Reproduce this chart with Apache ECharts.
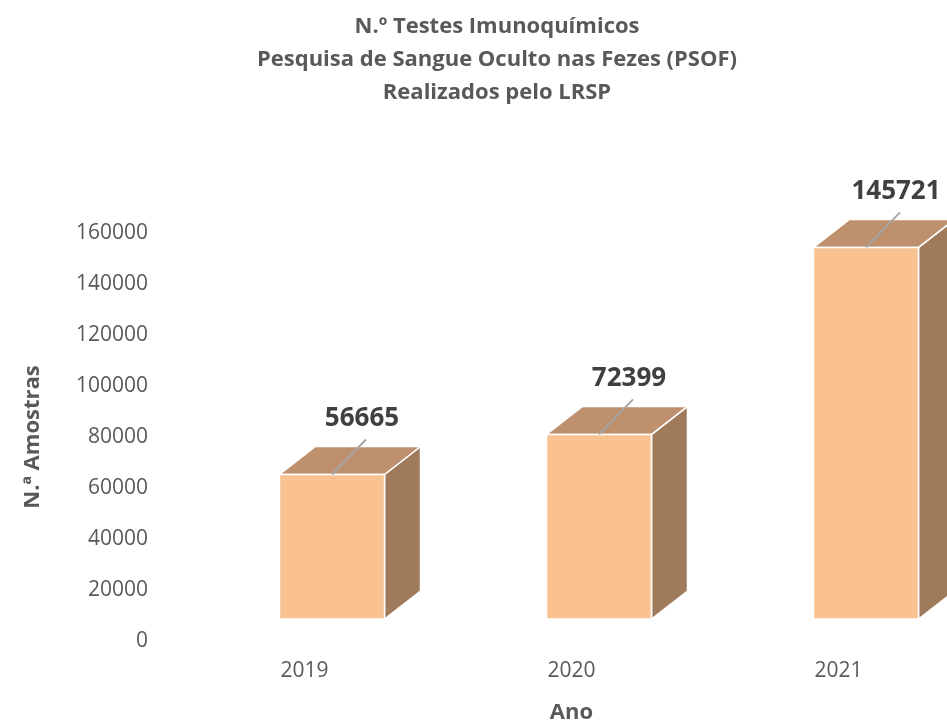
<!DOCTYPE html>
<html>
<head>
<meta charset="utf-8">
<script src="https://cdn.jsdelivr.net/npm/echarts@6/dist/echarts.min.js"></script>
<style>
  html, body { margin: 0; padding: 0; background: #fff; }
  #chart { width: 947px; height: 721px; }
</style>
</head>
<body>
<div id="chart"></div>
<script>
// dados
const anos = ['2019', '2020', '2021'];
const amostras = [56665, 72399, 145721];
const yTicks = [0, 160000, 20000]; // min, max, intervalo

const FONT = '"Open Sans", "Noto Sans", sans-serif';
const cores = {
  frente: '#FAC191',
  topo: '#BF906E',
  lado: '#9F7B5B',
  texto: '#595959',
  rotulo: '#404040',
  linha: '#A6A6A6'
};

const chart = echarts.init(document.getElementById('chart'));

// barra 3D desenhada a partir das coordenadas do eixo
function renderBar(params, api) {
  const v = api.value(1);
  const base = api.coord([api.value(0), 0]);
  const top = api.coord([api.value(0), v]);
  const chao = 22;          // deslocamento do "chão" 3D
  const dx = 36, dy = -28;  // profundidade
  const x0 = base[0] - 25, x1 = base[0] + 80;
  const yb = base[1] - chao, yt = top[1] - chao;
  const xc = (x0 + x1) / 2;
  const borda = { stroke: '#fff', lineWidth: 1.5 };

  return {
    type: 'group',
    children: [
      {
        type: 'polygon',
        shape: { points: [[x1, yt], [x1 + dx, yt + dy], [x1 + dx, yb + dy], [x1, yb]] },
        style: Object.assign({ fill: cores.lado }, borda)
      },
      {
        type: 'polygon',
        shape: { points: [[x0, yt], [x0 + dx, yt + dy], [x1 + dx, yt + dy], [x1, yt]] },
        style: Object.assign({ fill: cores.topo }, borda)
      },
      {
        type: 'rect',
        shape: { x: x0, y: yt, width: x1 - x0, height: yb - yt },
        style: Object.assign({ fill: cores.frente }, borda)
      },
      {
        type: 'line',
        shape: { x1: xc, y1: yt, x2: xc + 34, y2: yt - 35 },
        style: { stroke: cores.linha, lineWidth: 2 }
      },
      {
        type: 'text',
        x: xc + 30,
        y: yt - 56,
        style: {
          text: String(v),
          fill: cores.rotulo,
          font: 'bold 26px ' + FONT,
          align: 'center',
          verticalAlign: 'middle',
          textAlign: 'center',
          textVerticalAlign: 'middle'
        }
      }
    ]
  };
}

chart.setOption({
  backgroundColor: '#fff',
  animation: false,
  graphic: [{
    type: 'text',
    x: 497,
    y: 10,
    style: {
      text: 'N.º Testes Imunoquímicos\nPesquisa de Sangue Oculto nas Fezes (PSOF)\nRealizados pelo LRSP',
      fill: cores.texto,
      font: 'bold 22px ' + FONT,
      lineHeight: 33,
      align: 'center',
      verticalAlign: 'top',
      textAlign: 'center',
      textVerticalAlign: 'top'
    }
  }],
  grid: { left: 171, top: 233, width: 801, height: 408, outerBoundsMode: 'none', containLabel: false },
  xAxis: {
    type: 'category',
    data: anos,
    axisLine: { show: false },
    axisTick: { show: false },
    axisLabel: { color: cores.texto, fontSize: 21, fontFamily: FONT, margin: 20 },
    name: 'Ano',
    nameLocation: 'middle',
    nameGap: 61,
    nameTextStyle: { color: cores.texto, fontSize: 22, fontWeight: 'bold', fontFamily: FONT }
  },
  yAxis: {
    type: 'value',
    min: yTicks[0],
    max: yTicks[1],
    interval: yTicks[2],
    axisLine: { show: false },
    axisTick: { show: false },
    splitLine: { show: false },
    axisLabel: { color: cores.texto, fontSize: 21, fontFamily: FONT, margin: 23, formatter: v => String(v) },
    name: 'N.ª Amostras',
    nameLocation: 'middle',
    nameGap: 127,
    nameTextStyle: { color: cores.texto, fontSize: 22, fontWeight: 'bold', fontFamily: FONT }
  },
  series: [{
    type: 'custom',
    renderItem: renderBar,
    encode: { x: 0, y: 1 },
    clip: false,
    data: amostras.map((v, i) => [i, v])
  }]
});
</script>
</body>
</html>
